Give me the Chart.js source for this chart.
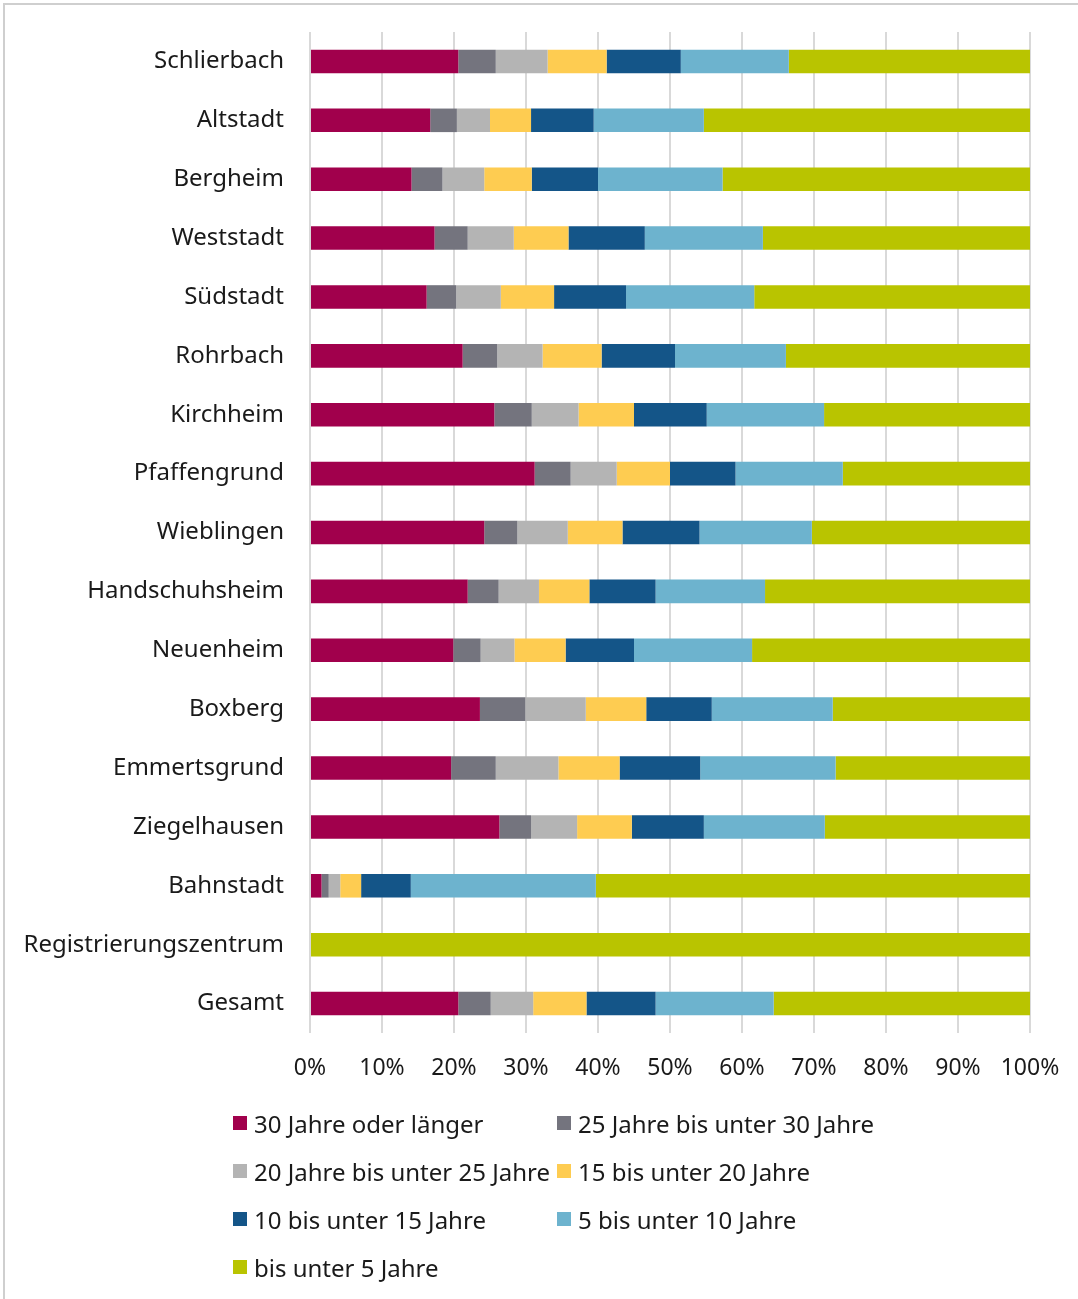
<!DOCTYPE html>
<html lang="de">
<head>
<meta charset="utf-8">
<title>Wohndauer nach Stadtteil</title>
<script src="https://cdn.jsdelivr.net/npm/chart.js@4"></script>
<style>
  html, body { margin:0; padding:0; background:#fff; }
  body { width:1078px; height:1299px; position:relative; overflow:hidden; font-family:"Noto Sans", "Open Sans", sans-serif; color:#1a1a1a; }
  #frame { position:absolute; left:3px; top:3px; width:1200px; height:1400px; border-top:2px solid #cfcfcf; border-left:2px solid #cfcfcf; }
  #wrap { position:absolute; left:0; top:0; width:1078px; height:1100px; }
  #legend { position:absolute; left:233px; top:1099px; width:760px; display:grid; grid-template-columns:324px 400px; }
  .item { display:flex; align-items:center; height:48px; font-size:24px; white-space:nowrap; }
  .sw { width:14px; height:14px; margin-right:7px; flex:none; }
</style>
</head>
<body>
<div id="frame"></div>
<div id="wrap"><canvas id="chart"></canvas></div>
<div id="legend"></div>

<script>
const $ = (id) => document.getElementById(id);

// districts, top to bottom
const districts = [
  "Schlierbach","Altstadt","Bergheim","Weststadt","Südstadt","Rohrbach","Kirchheim",
  "Pfaffengrund","Wieblingen","Handschuhsheim","Neuenheim","Boxberg","Emmertsgrund",
  "Ziegelhausen","Bahnstadt","Registrierungszentrum","Gesamt"
];

// share of residents by length of residence, in percent
const y30plus  = [20.6,16.7,14.1,17.3,16.2,21.2,25.6,31.2,24.2,21.9,19.9,23.6,19.6,26.3,1.6,0,20.6];
const y25to30  = [5.2,3.7,4.3,4.6,4.1,4.8,5.2,5.0,4.6,4.3,3.8,6.3,6.2,4.4,1.0,0,4.5];
const y20to25  = [7.2,4.6,5.8,6.4,6.2,6.3,6.5,6.4,7.0,5.6,4.7,8.4,8.7,6.4,1.6,0,5.9];
const y15to20  = [8.2,5.7,6.6,7.6,7.4,8.2,7.7,7.4,7.6,7.0,7.1,8.4,8.5,7.6,2.9,0,7.4];
const y10to15  = [10.3,8.7,9.2,10.6,10.0,10.2,10.1,9.1,10.7,9.2,9.5,9.1,11.2,10.0,6.9,0,9.6];
const y5to10   = [15.0,15.3,17.3,16.4,17.8,15.4,16.3,14.9,15.6,15.2,16.4,16.8,18.8,16.8,25.7,0,16.4];
const yUnder5  = [33.5,45.3,42.7,37.1,38.3,33.9,28.6,26.0,30.3,36.8,38.6,27.4,27.0,28.5,60.3,100,35.6];

const seriesNames = [
  "30 Jahre oder länger",
  "25 Jahre bis unter 30 Jahre",
  "20 Jahre bis unter 25 Jahre",
  "15 bis unter 20 Jahre",
  "10 bis unter 15 Jahre",
  "5 bis unter 10 Jahre",
  "bis unter 5 Jahre"
];
const seriesData = [y30plus, y25to30, y20to25, y15to20, y10to15, y5to10, yUnder5];
const seriesColors = ["#a1004c","#74747e","#b4b4b4","#fecc51","#145588","#6db3ce","#b9c400"];

const xTicks = [0,10,20,30,40,50,60,70,80,90,100];

const FONT = "'Noto Sans', 'Open Sans', sans-serif";

function buildLegend(){
  $("legend").innerHTML = seriesNames.map((n, i) =>
    `<div class="item"><span class="sw" style="background:${seriesColors[i]}"></span>${n}</div>`
  ).join("");
}

function draw(){
  const canvas = $("chart");
  new Chart(canvas, {
    type: "bar",
    data: {
      labels: districts,
      datasets: seriesNames.map((n, i) => ({
        label: n,
        data: seriesData[i],
        backgroundColor: seriesColors[i],
        borderWidth: 0,
        barPercentage: 0.8,
        categoryPercentage: 0.5
      }))
    },
    options: {
      indexAxis: "y",
      responsive: true,
      maintainAspectRatio: false,
      animation: false,
      layout: { padding: { top: 32, right: 48, bottom: 7, left: 0 } },
      plugins: {
        legend: { display: false },
        tooltip: { enabled: false }
      },
      scales: {
        x: {
          stacked: true,
          min: 0,
          max: 100,
          afterBuildTicks: (s) => { s.ticks = xTicks.map(v => ({ value: v })); },
          // fixed axis size, no extra edge padding for the end labels
          afterFit: (s) => { s.height = 60; s.paddingLeft = 0; s.paddingRight = 0; },
          grid: { color: "#d9d9d9", lineWidth: 2, drawTicks: false },
          border: { display: false },
          ticks: {
            padding: 22,
            color: "#1a1a1a",
            font: { family: FONT, size: 23 },
            callback: (v) => v + "%"
          }
        },
        y: {
          stacked: true,
          afterFit: (s) => { s.width = 310; s.paddingTop = 0; s.paddingBottom = 0; },
          grid: { display: false, drawTicks: false },
          border: { display: false },
          ticks: {
            padding: 26,
            color: "#1a1a1a",
            font: { family: FONT, size: 24 }
          }
        }
      }
    }
  });
}

document.addEventListener("DOMContentLoaded", () => {
  buildLegend();
  draw();
});
</script>
</body>
</html>
